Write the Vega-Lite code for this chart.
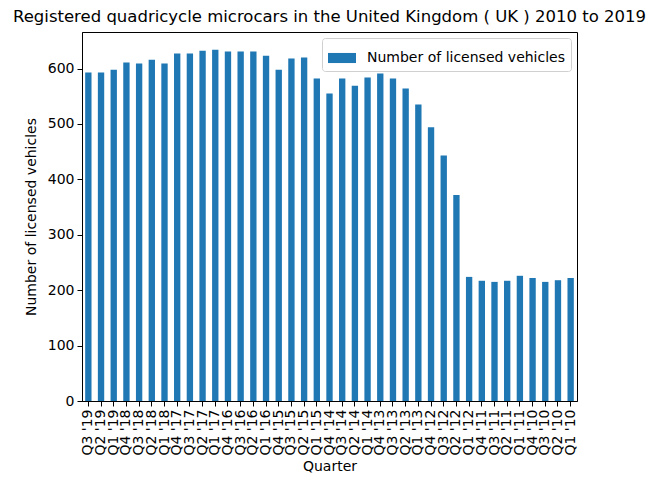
{
  "$schema": "https://vega.github.io/schema/vega-lite/v6.json",
  "description": "Registered quadricycle microcars in the UK, by quarter, 2010 to 2019.",
  "autosize": "none",
  "width": 495,
  "height": 369,
  "padding": {"left": 82, "top": 32, "right": 80, "bottom": 85},
  "background": "white",
  "config": {
    "font": "DejaVu Sans",
    "view": {"stroke": "black", "strokeWidth": 1},
    "axis": {
      "labelFont": "DejaVu Sans",
      "titleFont": "DejaVu Sans",
      "labelFontSize": 14,
      "titleFontSize": 14,
      "titleFontWeight": "normal",
      "labelColor": "black",
      "titleColor": "black",
      "domainColor": "black",
      "tickColor": "black",
      "tickSize": 5,
      "labelPadding": 3,
      "grid": false
    }
  },
  "title": {
    "text": "Registered quadricycle microcars in the United Kingdom ( UK ) 2010 to 2019",
    "font": "DejaVu Sans",
    "fontSize": 16.5,
    "fontWeight": "normal",
    "color": "black",
    "anchor": "middle",
    "frame": "group",
    "offset": 7
  },
  "data": {
    "values": [
      {"quarter": "Q3 '19", "vehicles": 593},
      {"quarter": "Q2 '19", "vehicles": 593},
      {"quarter": "Q1 '19", "vehicles": 598},
      {"quarter": "Q4 '18", "vehicles": 611},
      {"quarter": "Q3 '18", "vehicles": 609},
      {"quarter": "Q2 '18", "vehicles": 616},
      {"quarter": "Q1 '18", "vehicles": 609},
      {"quarter": "Q4 '17", "vehicles": 627},
      {"quarter": "Q3 '17", "vehicles": 627},
      {"quarter": "Q2 '17", "vehicles": 632},
      {"quarter": "Q1 '17", "vehicles": 634},
      {"quarter": "Q4 '16", "vehicles": 631},
      {"quarter": "Q3 '16", "vehicles": 631},
      {"quarter": "Q2 '16", "vehicles": 631},
      {"quarter": "Q1 '16", "vehicles": 623},
      {"quarter": "Q4 '15", "vehicles": 598},
      {"quarter": "Q3 '15", "vehicles": 618},
      {"quarter": "Q2 '15", "vehicles": 620},
      {"quarter": "Q1 '15", "vehicles": 582},
      {"quarter": "Q4 '14", "vehicles": 555},
      {"quarter": "Q3 '14", "vehicles": 582},
      {"quarter": "Q2 '14", "vehicles": 569},
      {"quarter": "Q1 '14", "vehicles": 584},
      {"quarter": "Q4 '13", "vehicles": 591},
      {"quarter": "Q3 '13", "vehicles": 582},
      {"quarter": "Q2 '13", "vehicles": 564},
      {"quarter": "Q1 '13", "vehicles": 535},
      {"quarter": "Q4 '12", "vehicles": 494},
      {"quarter": "Q3 '12", "vehicles": 443},
      {"quarter": "Q2 '12", "vehicles": 372},
      {"quarter": "Q1 '12", "vehicles": 224},
      {"quarter": "Q4 '11", "vehicles": 217},
      {"quarter": "Q3 '11", "vehicles": 215},
      {"quarter": "Q2 '11", "vehicles": 217},
      {"quarter": "Q1 '11", "vehicles": 226},
      {"quarter": "Q4 '10", "vehicles": 222},
      {"quarter": "Q3 '10", "vehicles": 215},
      {"quarter": "Q2 '10", "vehicles": 218},
      {"quarter": "Q1 '10", "vehicles": 222}
    ]
  },
  "mark": {"type": "bar"},
  "encoding": {
    "x": {
      "field": "quarter",
      "type": "nominal",
      "sort": null,
      "title": "Quarter",
      "scale": {"paddingInner": 0.5, "paddingOuter": 0.25},
      "axis": {"labelAngle": -90, "labelAlign": "right", "labelBaseline": "middle", "titlePadding": 4}
    },
    "y": {
      "field": "vehicles",
      "type": "quantitative",
      "title": "Number of licensed vehicles",
      "scale": {"domain": [0, 666], "nice": false},
      "axis": {"values": [0, 100, 200, 300, 400, 500, 600], "titlePadding": 9}
    },
    "color": {
      "datum": "Number of licensed vehicles",
      "type": "nominal",
      "scale": {"range": ["#1f77b4"]},
      "legend": {
        "title": null,
        "orient": "top-right",
        "offset": 6,
        "symbolType": "M-1,-0.36L1,-0.36L1,0.36L-1,0.36Z",
        "symbolSize": 784,
        "symbolStrokeWidth": 0,
        "labelFontSize": 14,
        "labelFont": "DejaVu Sans",
        "labelColor": "black",
        "labelOffset": 11,
        "labelLimit": 0,
        "strokeColor": "#d0d0d0",
        "cornerRadius": 3,
        "padding": 6,
        "fillColor": "white"
      }
    }
  }
}
